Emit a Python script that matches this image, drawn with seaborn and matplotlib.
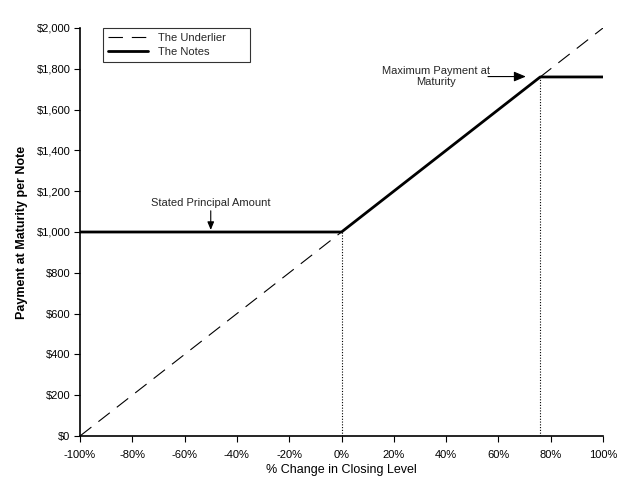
import matplotlib
matplotlib.use("Agg")
import matplotlib.pyplot as plt
import seaborn as sns
import pandas as pd
import numpy as np

# data
underlier_x = [-100, 100]
underlier_y = [0, 2000]
notes_x = [-100, 0, 76, 100]
notes_y = [1000, 1000, 1760, 1760]
x_ticks = [-100, -80, -60, -40, -20, 0, 20, 40, 60, 80, 100]
y_ticks = [0, 200, 400, 600, 800, 1000, 1200, 1400, 1600, 1800, 2000]

sns.set_theme(style="white")
plt.rcParams['font.family'] = ['Liberation Sans', 'DejaVu Sans']

fig = plt.figure(figsize=(6.38, 4.84), dpi=100)
ax = fig.add_axes([80/638, 1-436/484, (603-80)/638, (436-28)/484])

df_u = pd.DataFrame({"x": underlier_x, "y": underlier_y})
df_n = pd.DataFrame({"x": notes_x, "y": notes_y})
sns.lineplot(data=df_u, x="x", y="y", ax=ax, color="black", lw=0.8,
             linestyle=(0, (13, 8)), label="The Underlier")
sns.lineplot(data=df_n, x="x", y="y", ax=ax, color="black", lw=2.0,
             label="The Notes")

# dotted verticals
ax.plot([0, 0], [0, 1000], color="black", lw=0.8, linestyle=(0, (1, 1.5)))
ax.plot([notes_x[2], notes_x[2]], [0, notes_y[2]], color="black", lw=0.8, linestyle=(0, (1, 1.5)))

ax.set_xlim(-100, 100)
ax.set_ylim(0, 2000)
ax.set_xticks(x_ticks)
ax.set_xticklabels([f"{v}%" for v in x_ticks])
ax.set_yticks(y_ticks)
ax.set_yticklabels([f"${v:,}" for v in y_ticks])
ax.tick_params(axis="both", which="both", direction="out", length=4, width=0.8,
               labelsize=8, color="black", labelcolor="black", bottom=True, left=True)
ax.tick_params(axis="x", pad=6)
ax.tick_params(axis="y", pad=3)
for s in ["top", "right"]:
    ax.spines[s].set_visible(False)
for s in ["left", "bottom"]:
    ax.spines[s].set_color("black")
    ax.spines[s].set_linewidth(1.2)

ax.set_xlabel("% Change in Closing Level", fontsize=9, color="black", labelpad=3)
ax.set_ylabel("Payment at Maturity per Note", fontsize=9, color="black", fontweight="bold", labelpad=6)

# annotations
ax.annotate("Stated Principal Amount", xy=(-50, 1010), xytext=(-50, 1120),
            ha="center", va="bottom", fontsize=8,
            arrowprops=dict(arrowstyle="-|>,head_width=0.25,head_length=0.6",
                            color="black", lw=0.8, shrinkA=0, shrinkB=0))
ax.annotate("", xy=(70.5, 1762), xytext=(56, 1762),
            arrowprops=dict(arrowstyle="-|>,head_width=0.25,head_length=0.6",
                            color="black", lw=0.8, shrinkA=0, shrinkB=0))
ax.text(36, 1762, "Maximum Payment at\nMaturity", ha="center", va="center",
        fontsize=8, linespacing=1.2)

leg = ax.legend(loc="upper left", bbox_to_anchor=((103-80)/523, 1.0, 147/523, 0.0),
                mode="expand", frameon=True,
                fancybox=False, edgecolor="black", fontsize=8, handlelength=3.6,
                handletextpad=0.9, borderpad=0.45, labelspacing=0.35, borderaxespad=0)
leg.get_frame().set_linewidth(0.8)

fig.savefig("out.png", dpi=100)
